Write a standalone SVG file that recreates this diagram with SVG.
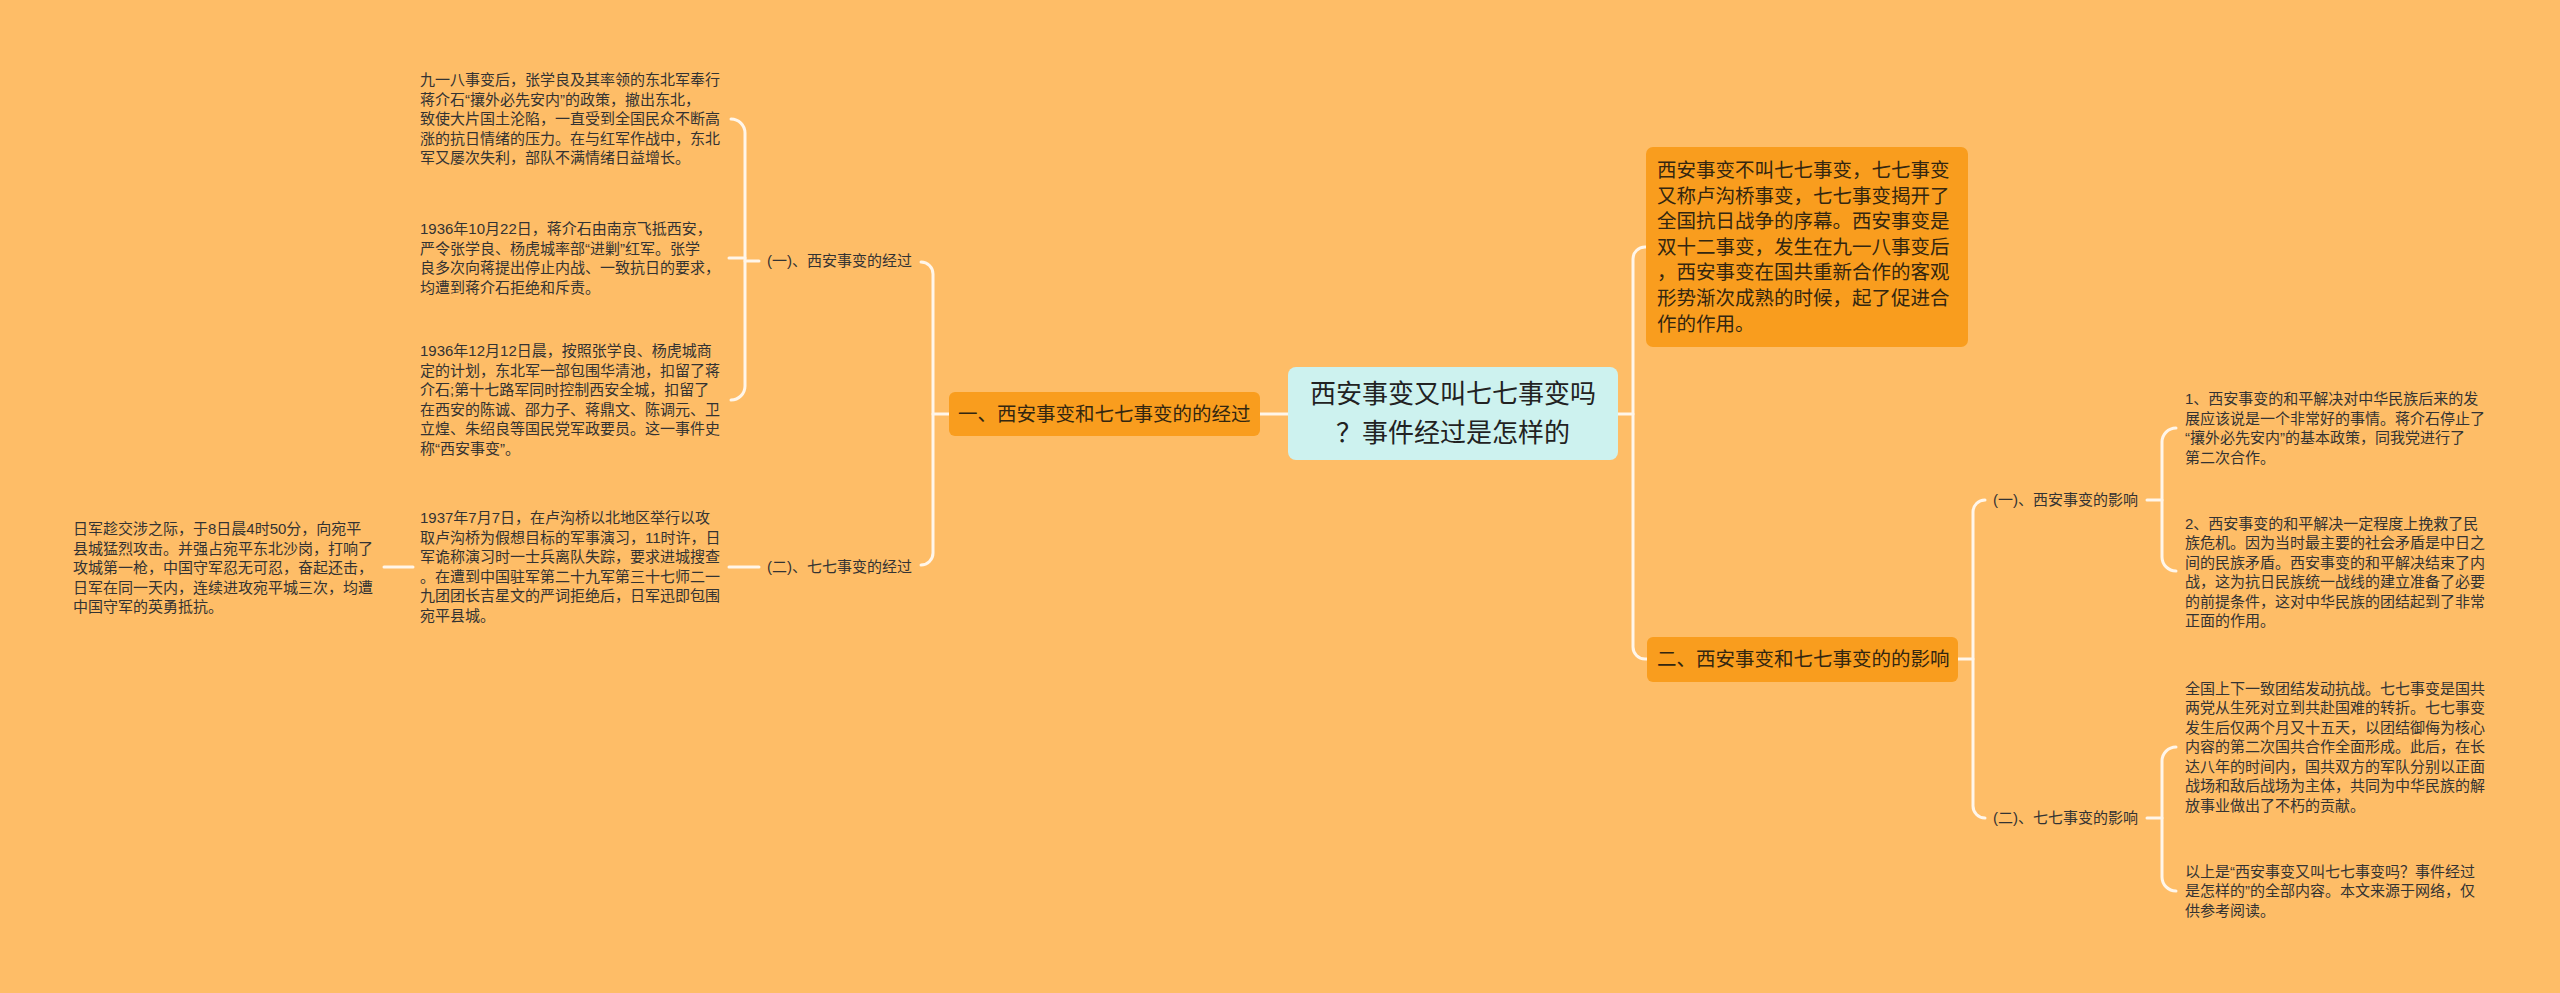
<svg xmlns="http://www.w3.org/2000/svg" width="2560" height="993" viewBox="0 0 2560 993">
<style>
.t{font-family:"Liberation Sans","Noto Sans CJK SC",sans-serif;font-size:15px;fill:#333}
.m{font-family:"Liberation Sans","Noto Sans CJK SC",sans-serif;font-size:19.5px;fill:#332610}
.c{font-family:"Liberation Sans","Noto Sans CJK SC",sans-serif;font-size:26px;fill:#222;text-anchor:middle}
.box{fill:#F99D1E}
.ln{fill:none;stroke:#FFF6EA;stroke-width:3;stroke-linecap:round}
</style>
<rect width="2560" height="993" fill="#FEBD67"/>
<g id="connectors">
<path class="ln" d="M1260 414H1288"/>
<path class="ln" d="M921 262A12 12 0 0 1 933 274V553A12 12 0 0 1 921 565"/>
<path class="ln" d="M933 414H949"/>
<path class="ln" d="M731 119A14 14 0 0 1 745 133V386A14 14 0 0 1 731 400"/>
<path class="ln" d="M729 258H745"/>
<path class="ln" d="M745 261H759"/>
<path class="ln" d="M729 567H759"/>
<path class="ln" d="M384 567H413"/>
<path class="ln" d="M1618 414H1633"/>
<path class="ln" d="M1646 247H1645A12 12 0 0 0 1633 259V647A12 12 0 0 0 1645 659H1647"/>
<path class="ln" d="M1958 659H1973"/>
<path class="ln" d="M1985 500A12 12 0 0 0 1973 512V806A12 12 0 0 0 1985 818"/>
<path class="ln" d="M2147 500H2162"/>
<path class="ln" d="M2176 428A14 14 0 0 0 2162 442V557A14 14 0 0 0 2176 571"/>
<path class="ln" d="M2147 818H2162"/>
<path class="ln" d="M2176 747A14 14 0 0 0 2162 761V877A14 14 0 0 0 2176 891"/>
</g>
<g id="root">
<rect x="1288" y="367" width="330" height="93" rx="8" fill="#CDF2EF"/>
<text class="c" x="1453" y="403">西安事变又叫七七事变吗</text>
<text class="c" x="1453" y="442">？事件经过是怎样的</text>
</g>
<g id="branch-left">
<rect class="box" x="949" y="392" width="311" height="44" rx="6"/>
<text class="m" x="958" y="421">一、西安事变和七七事变的的经过</text>
</g>
<g id="sub-xian-course">
<text class="t" x="767" y="266">(一)、西安事变的经过</text>
</g>
<g id="sub-77-course">
<text class="t" x="767" y="572">(二)、七七事变的经过</text>
</g>
<g id="leaf-1" class="t">
<text x="420" y="85">九一八事变后，张学良及其率领的东北军奉行</text>
<text x="420" y="104.5">蒋介石“攘外必先安内”的政策，撤出东北，</text>
<text x="420" y="124">致使大片国土沦陷，一直受到全国民众不断高</text>
<text x="420" y="143.5">涨的抗日情绪的压力。在与红军作战中，东北</text>
<text x="420" y="163">军又屡次失利，部队不满情绪日益增长。</text>
</g>
<g id="leaf-2" class="t">
<text x="420" y="234">1936年10月22日，蒋介石由南京飞抵西安，</text>
<text x="420" y="253.5">严令张学良、杨虎城率部“进剿”红军。张学</text>
<text x="420" y="273">良多次向蒋提出停止内战、一致抗日的要求，</text>
<text x="420" y="292.5">均遭到蒋介石拒绝和斥责。</text>
</g>
<g id="leaf-3" class="t">
<text x="420" y="356">1936年12月12日晨，按照张学良、杨虎城商</text>
<text x="420" y="375.5">定的计划，东北军一部包围华清池，扣留了蒋</text>
<text x="420" y="395">介石;第十七路军同时控制西安全城，扣留了</text>
<text x="420" y="414.5">在西安的陈诚、邵力子、蒋鼎文、陈调元、卫</text>
<text x="420" y="434">立煌、朱绍良等国民党军政要员。这一事件史</text>
<text x="420" y="453.5">称“西安事变”。</text>
</g>
<g id="leaf-4" class="t">
<text x="420" y="523">1937年7月7日，在卢沟桥以北地区举行以攻</text>
<text x="420" y="542.5">取卢沟桥为假想目标的军事演习，11时许，日</text>
<text x="420" y="562">军诡称演习时一士兵离队失踪，要求进城搜查</text>
<text x="420" y="581.5">。在遭到中国驻军第二十九军第三十七师二一</text>
<text x="420" y="601">九团团长吉星文的严词拒绝后，日军迅即包围</text>
<text x="420" y="620.5">宛平县城。</text>
</g>
<g id="leaf-5" class="t">
<text x="73" y="534">日军趁交涉之际，于8日晨4时50分，向宛平</text>
<text x="73" y="553.5">县城猛烈攻击。并强占宛平东北沙岗，打响了</text>
<text x="73" y="573">攻城第一枪，中国守军忍无可忍，奋起还击，</text>
<text x="73" y="592.5">日军在同一天内，连续进攻宛平城三次，均遭</text>
<text x="73" y="612">中国守军的英勇抵抗。</text>
</g>
<g id="branch-answer">
<rect class="box" x="1646" y="147" width="322" height="200" rx="7"/>
<g class="m">
<text x="1657" y="177">西安事变不叫七七事变，七七事变</text>
<text x="1657" y="202.6">又称卢沟桥事变，七七事变揭开了</text>
<text x="1657" y="228.2">全国抗日战争的序幕。西安事变是</text>
<text x="1657" y="253.8">双十二事变，发生在九一八事变后</text>
<text x="1657" y="279.4">，西安事变在国共重新合作的客观</text>
<text x="1657" y="305">形势渐次成熟的时候，起了促进合</text>
<text x="1657" y="330.6">作的作用。</text>
</g>
</g>
<g id="branch-right">
<rect class="box" x="1647" y="637" width="311" height="45" rx="6"/>
<text class="m" x="1657" y="666">二、西安事变和七七事变的的影响</text>
</g>
<g id="sub-xian-effect">
<text class="t" x="1993" y="505">(一)、西安事变的影响</text>
</g>
<g id="sub-77-effect">
<text class="t" x="1993" y="823">(二)、七七事变的影响</text>
</g>
<g id="leaf-6" class="t">
<text x="2185" y="404">1、西安事变的和平解决对中华民族后来的发</text>
<text x="2185" y="423.5">展应该说是一个非常好的事情。蒋介石停止了</text>
<text x="2185" y="443">“攘外必先安内”的基本政策，同我党进行了</text>
<text x="2185" y="462.5">第二次合作。</text>
</g>
<g id="leaf-7" class="t">
<text x="2185" y="528.5">2、西安事变的和平解决一定程度上挽救了民</text>
<text x="2185" y="548">族危机。因为当时最主要的社会矛盾是中日之</text>
<text x="2185" y="567.5">间的民族矛盾。西安事变的和平解决结束了内</text>
<text x="2185" y="587">战，这为抗日民族统一战线的建立准备了必要</text>
<text x="2185" y="606.5">的前提条件，这对中华民族的团结起到了非常</text>
<text x="2185" y="626">正面的作用。</text>
</g>
<g id="leaf-8" class="t">
<text x="2185" y="693.5">全国上下一致团结发动抗战。七七事变是国共</text>
<text x="2185" y="713">两党从生死对立到共赴国难的转折。七七事变</text>
<text x="2185" y="732.5">发生后仅两个月又十五天，以团结御侮为核心</text>
<text x="2185" y="752">内容的第二次国共合作全面形成。此后，在长</text>
<text x="2185" y="771.5">达八年的时间内，国共双方的军队分别以正面</text>
<text x="2185" y="791">战场和敌后战场为主体，共同为中华民族的解</text>
<text x="2185" y="810.5">放事业做出了不朽的贡献。</text>
</g>
<g id="leaf-9" class="t">
<text x="2185" y="876.5">以上是“西安事变又叫七七事变吗？事件经过</text>
<text x="2185" y="896">是怎样的”的全部内容。本文来源于网络，仅</text>
<text x="2185" y="915.5">供参考阅读。</text>
</g>
</svg>
